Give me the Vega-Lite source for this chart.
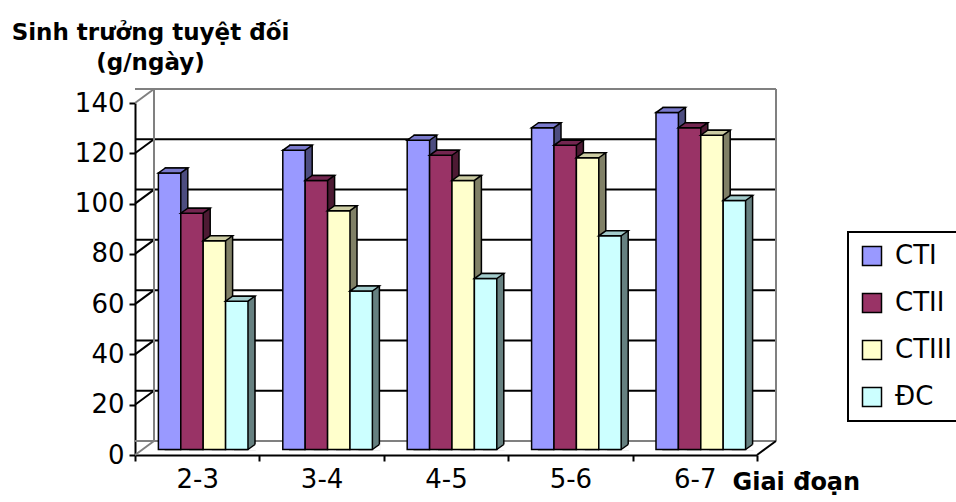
{
  "$schema": "https://vega.github.io/schema/vega-lite/v6.json",
  "width": 622,
  "height": 352,
  "autosize": {"type": "none"},
  "padding": {"left": 135, "top": 103, "right": 199, "bottom": 47},
  "background": "white",
  "config": {
    "view": {"stroke": null},
    "font": "DejaVu Sans",
    "legend": {"strokeWidth": 2},
    "axis": {
      "domainColor": "black", "domainWidth": 2,
      "tickColor": "black", "tickWidth": 2, "tickSize": 6,
      "labelFont": "DejaVu Sans", "labelFontSize": 26, "labelColor": "black", "labelPadding": 5,
      "titleFont": "DejaVu Sans", "titleFontWeight": "bold", "titleColor": "black",
      "grid": false
    }
  },
  "datasets": {
    "growth": [
      {"period": "2-3", "series": "CTI", "value": 110},
      {"period": "2-3", "series": "CTII", "value": 94},
      {"period": "2-3", "series": "CTIII", "value": 83},
      {"period": "2-3", "series": "ĐC", "value": 59},
      {"period": "3-4", "series": "CTI", "value": 119},
      {"period": "3-4", "series": "CTII", "value": 107},
      {"period": "3-4", "series": "CTIII", "value": 95},
      {"period": "3-4", "series": "ĐC", "value": 63},
      {"period": "4-5", "series": "CTI", "value": 123},
      {"period": "4-5", "series": "CTII", "value": 117},
      {"period": "4-5", "series": "CTIII", "value": 107},
      {"period": "4-5", "series": "ĐC", "value": 68},
      {"period": "5-6", "series": "CTI", "value": 128},
      {"period": "5-6", "series": "CTII", "value": 121},
      {"period": "5-6", "series": "CTIII", "value": 116},
      {"period": "5-6", "series": "ĐC", "value": 85},
      {"period": "6-7", "series": "CTI", "value": 134},
      {"period": "6-7", "series": "CTII", "value": 128},
      {"period": "6-7", "series": "CTIII", "value": 125},
      {"period": "6-7", "series": "ĐC", "value": 99}
    ],
    "ticks": [
      {"v": 0}, {"v": 20}, {"v": 40}, {"v": 60},
      {"v": 80}, {"v": 100}, {"v": 120}, {"v": 140}
    ]
  },
  "resolve": {"scale": {"fill": "independent", "xOffset": "independent"}},
  "layer": [
    {
      "description": "Back wall: gridlines drawn one depth step behind the front plane",
      "data": {"name": "ticks"},
      "mark": {"type": "rule", "xOffset": 19, "x2Offset": 19, "yOffset": -14, "strokeWidth": 2},
      "encoding": {
        "y": {
          "field": "v", "type": "quantitative",
          "scale": {"domain": [0, 140], "nice": false, "zero": true},
          "axis": {
            "title": ["Sinh trưởng tuyệt đối", "(g/ngày)"],
            "values": [0, 20, 40, 60, 80, 100, 120, 140],
            "titleAngle": 0, "titleAlign": "center", "titleBaseline": "alphabetic",
            "titleX": 15, "titleY": -64,
            "titleFontSize": 23, "titleLineHeight": 30
          }
        },
        "stroke": {
          "condition": {"test": "datum.v == 0 || datum.v == 140", "value": "#808080"},
          "value": "black"
        }
      }
    },
    {
      "description": "Left wall: diagonal lines from each front tick back to the wall",
      "data": {"name": "ticks"},
      "mark": {"type": "rule", "x2Offset": 19, "y2Offset": -14, "strokeWidth": 2},
      "encoding": {
        "x": {"datum": "2-3", "type": "nominal", "bandPosition": 0,
              "scale": {"type": "band", "domain": ["2-3", "3-4", "4-5", "5-6", "6-7"], "paddingInner": 0, "paddingOuter": 0},
              "axis": {
                "title": "Giai đoạn",
                "labelAngle": 0,
                "tickBand": "extent",
                "titleX": 597, "titleY": 34, "titleAlign": "left", "titleBaseline": "alphabetic",
                "titleFontSize": 24
              }},
        "x2": {"datum": "2-3", "bandPosition": 0},
        "y": {"field": "v", "type": "quantitative"},
        "y2": {"field": "v"},
        "stroke": {
          "condition": {"test": "datum.v == 0 || datum.v == 140", "value": "#808080"},
          "value": "black"
        }
      }
    },
    {
      "description": "Back wall left edge",
      "data": {"values": [{}]},
      "mark": {"type": "rule", "xOffset": 19, "yOffset": -14, "y2Offset": -14, "stroke": "#808080", "strokeWidth": 2},
      "encoding": {
        "x": {"datum": "2-3", "type": "nominal", "bandPosition": 0},
        "y": {"datum": 0, "type": "quantitative"},
        "y2": {"datum": 140}
      }
    },
    {
      "description": "Back wall right edge",
      "data": {"values": [{}]},
      "mark": {"type": "rule", "xOffset": 19, "yOffset": -14, "y2Offset": -14, "stroke": "#808080", "strokeWidth": 2},
      "encoding": {
        "x": {"datum": "6-7", "type": "nominal", "bandPosition": 1},
        "y": {"datum": 0, "type": "quantitative"},
        "y2": {"datum": 140}
      }
    },
    {
      "description": "Floor right edge",
      "data": {"values": [{}]},
      "mark": {"type": "rule", "x2Offset": 19, "y2Offset": -14, "stroke": "black", "strokeWidth": 2},
      "encoding": {
        "x": {"datum": "6-7", "type": "nominal", "bandPosition": 1},
        "x2": {"datum": "6-7", "bandPosition": 1},
        "y": {"datum": 0, "type": "quantitative"},
        "y2": {"datum": 0}
      }
    },
    {
      "description": "Bar side faces: each bar repeated one bar-depth back; the front and top faces hide all but its right strip",
      "data": {"name": "growth"},
      "mark": {"type": "bar", "yOffset": -10.5, "y2Offset": -5.5, "stroke": "black", "strokeWidth": 1.5},
      "encoding": {
        "x": {"field": "period", "type": "nominal"},
        "xOffset": {"field": "series", "type": "nominal",
                    "scale": {"type": "band", "domain": ["CTI", "CTII", "CTIII", "ĐC"], "paddingInner": 0, "paddingOuter": 0.777, "align": 0.8736}},
        "y": {"field": "value", "type": "quantitative"},
        "y2": {"datum": 0},
        "fill": {"field": "series", "type": "nominal",
                 "scale": {"domain": ["CTI", "CTII", "CTIII", "ĐC"], "range": ["#4D4D80", "#4D1A33", "#808066", "#668080"]},
                 "legend": null}
      }
    },
    {
      "description": "Floor showing below the slanted foot of each side face",
      "data": {"name": "growth"},
      "mark": {"type": "point", "shape": "M11.2,0L18.2,-5L19.6,-5L19.6,1.3L11.2,1.3Z", "size": 4,
               "yOffset": -5.5, "filled": true, "fill": "white", "strokeWidth": 0, "opacity": 1},
      "encoding": {
        "x": {"field": "period", "type": "nominal"},
        "xOffset": {"field": "series", "type": "nominal",
                    "scale": {"type": "band", "domain": ["CTI", "CTII", "CTIII", "ĐC"], "paddingInner": 0, "paddingOuter": 0.777, "align": 0.672}},
        "y": {"datum": 0, "type": "quantitative"}
      }
    },
    {
      "description": "Slanted foot edge of each side face",
      "data": {"name": "growth"},
      "mark": {"type": "point", "shape": "M11.2,0L18.2,-5", "size": 4,
               "yOffset": -5.5, "filled": false, "stroke": "black", "strokeWidth": 1.5, "opacity": 1},
      "encoding": {
        "x": {"field": "period", "type": "nominal"},
        "xOffset": {"field": "series", "type": "nominal",
                    "scale": {"type": "band", "domain": ["CTI", "CTII", "CTIII", "ĐC"], "paddingInner": 0, "paddingOuter": 0.777, "align": 0.672}},
        "y": {"datum": 0, "type": "quantitative"}
      }
    },
    {
      "description": "Bar front faces",
      "data": {"name": "growth"},
      "mark": {"type": "bar", "yOffset": -5.5, "y2Offset": -5.5, "stroke": "black", "strokeWidth": 1.5},
      "encoding": {
        "x": {"field": "period", "type": "nominal"},
        "xOffset": {"field": "series", "type": "nominal",
                    "scale": {"type": "band", "domain": ["CTI", "CTII", "CTIII", "ĐC"], "paddingInner": 0, "paddingOuter": 0.777, "align": 0.672}},
        "y": {"field": "value", "type": "quantitative"},
        "y2": {"datum": 0},
        "fill": {"field": "series", "type": "nominal",
                 "scale": {"domain": ["CTI", "CTII", "CTIII", "ĐC"], "range": ["#9999FF", "#993366", "#FFFFCC", "#CCFFFF"]},
                 "legend": {
                   "title": null,
                   "orient": "none", "legendX": 713, "legendY": 129,
                   "direction": "vertical",
                   "symbolType": "square", "symbolSize": 361,
                   "symbolStrokeColor": "black", "symbolStrokeWidth": 1.5,
                   "labelFont": "DejaVu Sans", "labelFontSize": 26, "labelColor": "black",
                   "labelOffset": 10, "rowPadding": 21, "padding": 11,
                   "strokeColor": "black"
                 }}
      }
    },
    {
      "description": "Bar top faces",
      "data": {"name": "growth"},
      "mark": {"type": "point", "shape": "M-11.2,0L11.2,0L18.2,-5L-4.2,-5Z", "size": 4,
               "yOffset": -5.5, "filled": true, "stroke": "black", "strokeWidth": 1.5, "opacity": 1},
      "encoding": {
        "x": {"field": "period", "type": "nominal"},
        "xOffset": {"field": "series", "type": "nominal",
                    "scale": {"type": "band", "domain": ["CTI", "CTII", "CTIII", "ĐC"], "paddingInner": 0, "paddingOuter": 0.777, "align": 0.672}},
        "y": {"field": "value", "type": "quantitative"},
        "fill": {"field": "series", "type": "nominal",
                 "scale": {"domain": ["CTI", "CTII", "CTIII", "ĐC"], "range": ["#7A7ACC", "#732650", "#CCCCA3", "#A3CCCC"]},
                 "legend": null}
      }
    }
  ]
}
